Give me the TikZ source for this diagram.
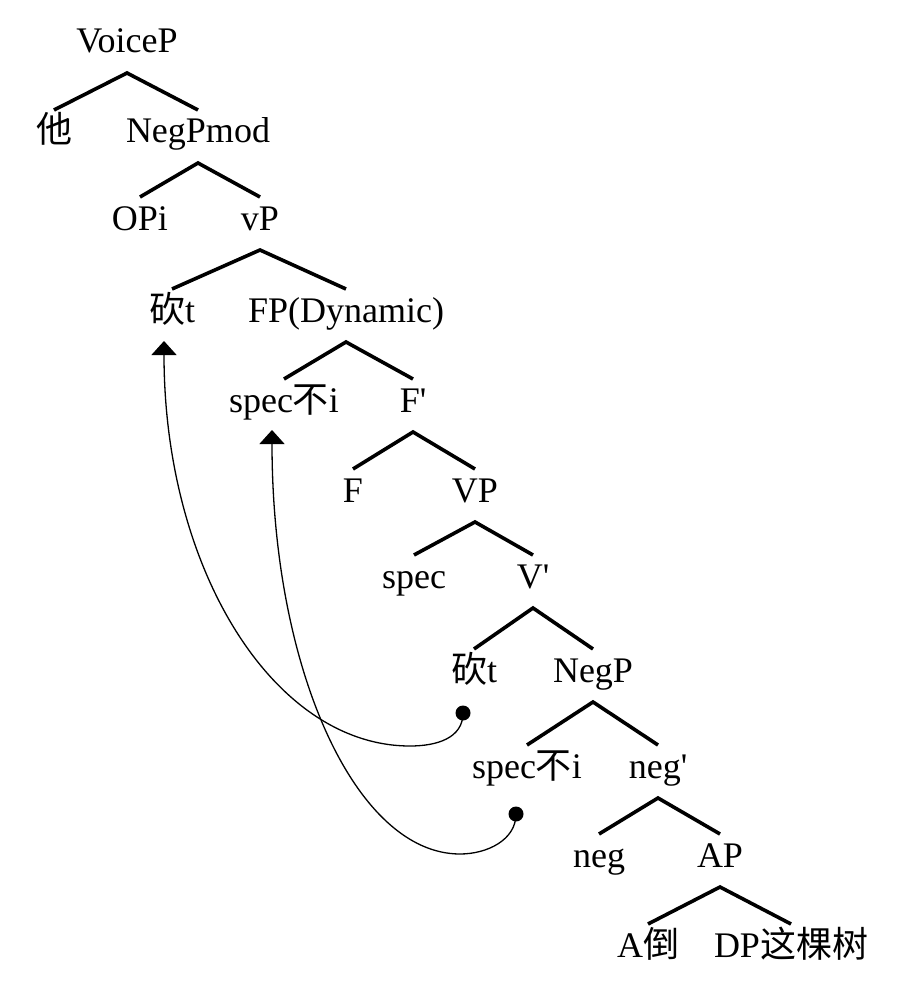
\documentclass[tikz,border=0pt]{standalone}
\usepackage{fontspec}
\setmainfont{Liberation Serif}
\newfontfamily\cjk{Noto Sans CJK SC}
\usetikzlibrary{calc,arrows.meta}
\newcommand\treebr[3]{%
  \draw[branch] ($(#2.base)+(0,-33)$) -- ($(#1.base)+(0,20)$) -- ($(#3.base)+(0,-33)$);}
\newcommand\prm{\textquotesingle}
\begin{document}
\begin{tikzpicture}[x=1pt,y=-1pt,
  lab/.style={anchor=base,inner sep=0pt,font=\fontsize{36}{40}\selectfont},
  branch/.style={line width=3.6pt,line join=miter},
  movearrow/.style={line width=1.3pt,-{Triangle[width=25pt,length=14pt]}},
  dotnode/.style={circle,fill=black,inner sep=0pt,minimum size=15pt}]
\useasboundingbox (0,0) rectangle (904,984);
% row nodes
\node[lab] (voice) at (127,53) {VoiceP};
\node[lab] (ta) at (54,143) {\cjk 他};
\node[lab] (negpmod) at (198,143) {NegPmod};
\node[lab] (opi) at (140,230) {OPi};
\node[lab] (vp) at (260,230) {vP};
\node[lab] (kan1) at (172,322) {{\cjk 砍}t};
\node[lab] (fp) at (346,322) {FP(Dynamic)};
\node[lab] (spec1) at (284,412) {spec{\cjk 不}i};
\node[lab] (fbar) at (413,412) {F\prm};
\node[lab] (f) at (353,502) {F};
\node[lab] (VP) at (475,502) {VP};
\node[lab] (spec) at (414,588) {spec};
\node[lab] (vbar) at (533,588) {V\prm};
\node[lab] (kan2) at (474,682) {{\cjk 砍}t};
\node[lab] (negp) at (593,682) {NegP};
\node[lab] (spec2) at (527,778) {spec{\cjk 不}i};
\node[lab] (negbar) at (658,778) {neg\prm};
\node[lab] (neg) at (599,867) {neg};
\node[lab] (ap) at (720,867) {AP};
\node[lab] (adao) at (648,957) {A{\cjk 倒}};
\node[lab] (dp) at (791,957) {DP{\cjk 这棵树}};
% branches
\treebr{voice}{ta}{negpmod}
\treebr{negpmod}{opi}{vp}
\treebr{vp}{kan1}{fp}
\treebr{fp}{spec1}{fbar}
\treebr{fbar}{f}{VP}
\treebr{VP}{spec}{vbar}
\treebr{vbar}{kan2}{negp}
\treebr{negp}{spec2}{negbar}
\treebr{negbar}{neg}{ap}
\treebr{ap}{adao}{dp}
% movement
\node[dotnode] (d1) at ($(kan2.base)+(-11,31)$) {};
\node[dotnode] (d2) at ($(spec2.base)+(-11,36)$) {};
\coordinate (t1) at ($(kan1.base)+(-8,19)$);
\coordinate (t2) at ($(spec1.base)+(-12,18)$);
\draw[movearrow] (d1.center) .. controls (463,738) and (437,746) .. (410,746)
  .. controls (274,746) and (164,570) .. (t1);
\draw[movearrow] (d2.center) .. controls (516,840) and (487,854) .. (460,854)
  .. controls (356,854) and (272,670) .. (t2);
\end{tikzpicture}
\end{document}
